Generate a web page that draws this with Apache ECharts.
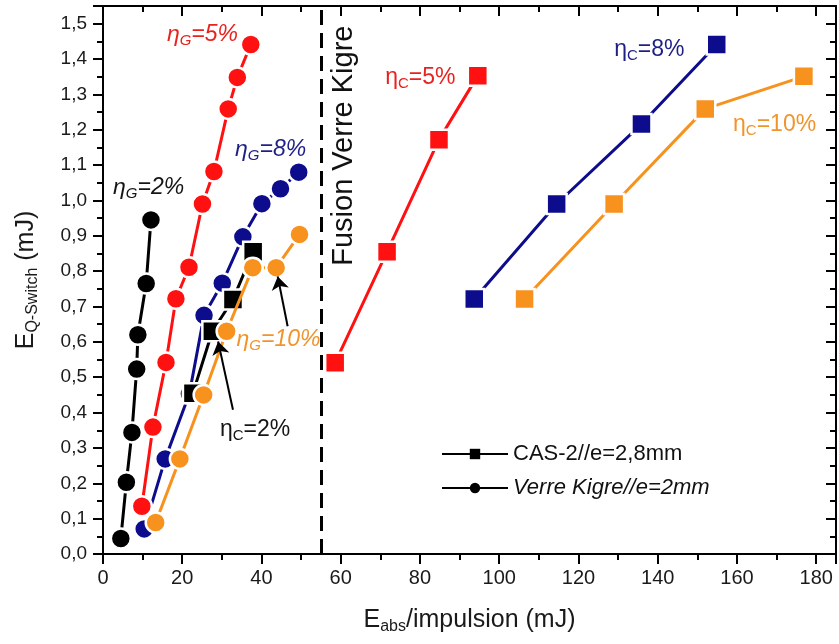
<!DOCTYPE html>
<html><head><meta charset="utf-8">
<script src="https://cdn.jsdelivr.net/npm/echarts@6/dist/echarts.min.js"></script>
<style>html,body{margin:0;padding:0;background:#fff}#c{width:839px;height:644px}</style>
</head><body><div id="c"></div>
<script>
// ---- data (E_abs mJ, E_Q-Switch mJ) ----
const kigreG2  = [[4.5,0.044],[5.9,0.203],[7.3,0.344],[8.5,0.523],[8.8,0.62],[10.9,0.765],[12.1,0.945]];
const kigreG5  = [[9.8,0.135],[12.6,0.359],[15.9,0.542],[18.4,0.722],[21.7,0.811],[25.1,0.990],[28.0,1.082],[31.6,1.259],[33.9,1.348],[37.3,1.441]];
const kigreG8  = [[10.4,0.071],[15.7,0.269],[21.8,0.453],[25.5,0.675],[30.1,0.766],[35.3,0.897],[40.1,0.991],[44.8,1.033],[49.4,1.080]];
const kigreG10 = [[13.3,0.089],[19.4,0.269],[25.4,0.450],[31.2,0.630],[37.8,0.810],[43.7,0.810],[49.6,0.904]];
const casC2  = [[22.7,0.455],[27.6,0.630],[32.8,0.720],[37.9,0.855]];
const casC5  = [[58.6,0.541],[71.7,0.855],[84.8,1.172],[94.6,1.353]];
const casC8  = [[93.7,0.721],[114.5,0.990],[135.9,1.216],[154.9,1.441]];
const casC10 = [[106.4,0.721],[129.0,0.990],[152.0,1.259],[176.9,1.351]];
const fusionX = 55;
const xTickLabels = ['0','20','40','60','80','100','120','140','160','180'];
const yTickLabels = ['0,0','0,1','0,2','0,3','0,4','0,5','0,6','0,7','0,8','0,9','1,0','1,1','1,2','1,3','1,4','1,5'];
const legendNames = ['CAS-2//e=2,8mm','Verre Kigre//e=2mm'];
// annotations: [x, y, subscript, text, colour, italic]
const notes = [
  [25.1,1.469,'G','=5%','#e8231f',true],
  [42.3,1.144,'G','=8%','#1f1f86',true],
  [11.5,1.036,'G','=2%','#151515',true],
  [44.3,0.606,'G','=10%','#f0952c',true],
  [38.4,0.352,'C','=2%','#151515',false],
  [80.1,1.347,'C','=5%','#e8231f',false],
  [137.9,1.427,'C','=8%','#1f1f86',false],
  [169.5,1.214,'C','=10%','#f0952c',false]
];
const arrows = [ [[32.8,0.408],[29.05,0.601]], [[46.6,0.644],[44.1,0.785]] ];
const fusionLabel = [60.9, 1.155, 'Fusion Verre Kigre'];

const RED='#ff1111', BLUE='#0c0c8c', ORANGE='#f7921e', BLACK='#000000';
const FF = "'Liberation Sans', Arial, sans-serif";

function ser(data, color, symbol, z){
  return {type:'line', data:data, symbol:symbol, symbolSize:20, z:z,
    lineStyle:{color:color, width:3}, itemStyle:{color:color, borderColor:'#fff', borderWidth:2.5},
    emphasis:{disabled:true}, silent:true};
}
const chart = echarts.init(document.getElementById('c'), null, {renderer:'canvas'});
const axisCommon = {type:'value', splitLine:{show:false},
  axisLine:{show:true, onZero:false, lineStyle:{color:'#000', width:2}},
  axisTick:{show:true, length:10, lineStyle:{color:'#000', width:2}},
  minorTick:{show:true, splitNumber:2, length:6, lineStyle:{color:'#000', width:2}}};

const yFmt = v => { const i = Math.round(v*10); return Math.abs(v*10-i)<1e-6 && yTickLabels[i]!==undefined ? yTickLabels[i] : ''; };
const xFmt = v => { const i = Math.round(v/20); return Math.abs(v/20-i)<1e-6 && xTickLabels[i]!==undefined ? xTickLabels[i] : ''; };

const option = {
  animation:false,
  backgroundColor:'#fff',
  grid:{left:103, right:1, top:6, bottom:90},
  xAxis:[
    Object.assign({}, axisCommon, {min:0, max:185, interval:20, position:'bottom',
      axisLabel:{formatter:xFmt, fontSize:20, color:'#1a1a1a', fontFamily:FF, margin:14},
      name:'{e|E}{s|abs}{e|/impulsion (mJ)}', nameLocation:'middle', nameGap:51,
      nameTextStyle:{color:'#1a1a1a', fontFamily:FF, rich:{
        e:{fontSize:25, fontFamily:FF, color:'#1a1a1a', verticalAlign:'middle', lineHeight:30},
        s:{fontSize:16, fontFamily:FF, color:'#1a1a1a', verticalAlign:'bottom', lineHeight:16}}}}),
    Object.assign({}, axisCommon, {min:0, max:185, interval:20, position:'top',
      axisTick:{show:true, inside:true, length:10, lineStyle:{color:'#000', width:2}},
      minorTick:{show:true, splitNumber:2, length:6, lineStyle:{color:'#000', width:2}},
      axisLabel:{show:false}})
  ],
  yAxis:[
    Object.assign({}, axisCommon, {min:0, max:1.55, interval:0.1, position:'left',
      axisLabel:{formatter:yFmt, fontSize:19, color:'#1a1a1a', fontFamily:FF, margin:16},
      name:'{e|E}{s|Q-Switch}{e| (mJ)}', nameLocation:'middle', nameGap:62,
      nameTextStyle:{color:'#1a1a1a', fontFamily:FF, rich:{
        e:{fontSize:25, fontFamily:FF, color:'#1a1a1a', verticalAlign:'middle', lineHeight:30},
        s:{fontSize:16, fontFamily:FF, color:'#1a1a1a', verticalAlign:'bottom', lineHeight:16}}}}),
    Object.assign({}, axisCommon, {min:0, max:1.55, interval:0.1, position:'right',
      axisTick:{show:true, inside:true, length:10, lineStyle:{color:'#000', width:2}},
      minorTick:{show:true, splitNumber:2, length:6, lineStyle:{color:'#000', width:2}},
      axisLabel:{show:false}})
  ],
  legend:{left:436, top:438, orient:'vertical', itemWidth:66, itemHeight:13, itemGap:12,
    selectedMode:false,
    textStyle:{fontSize:22, color:'#111', fontFamily:FF},
    data:[{name:legendNames[0]}, {name:legendNames[1], textStyle:{fontStyle:'italic'}}]},
  series:[
    Object.assign(ser(casC5, RED, 'rect', 3), {markLine:{silent:true, symbol:'none', label:{show:false},
      lineStyle:{type:[15,8], width:3, color:'#000'}, data:[{xAxis:fusionX}]}}),
    ser(casC8, BLUE, 'rect', 3),
    ser(casC10, ORANGE, 'rect', 3),
    ser(kigreG2, BLACK, 'circle', 3),
    ser(kigreG5, RED, 'circle', 3),
    ser(kigreG8, BLUE, 'circle', 3),
    ser(casC2, BLACK, 'rect', 4),
    ser(kigreG10, ORANGE, 'circle', 5),
    {type:'lines', coordinateSystem:'cartesian2d', silent:true, z:6, symbol:['none','arrow'], symbolSize:13,
      lineStyle:{color:'#000', width:2, opacity:1}, data:arrows.map(a=>({coords:a}))},
    {type:'line', name:legendNames[0], data:[], symbol:'rect', symbolSize:11, color:BLACK, lineStyle:{color:BLACK,width:3}, itemStyle:{color:BLACK}},
    {type:'line', name:legendNames[1], data:[], symbol:'circle', symbolSize:11, color:BLACK, lineStyle:{color:BLACK,width:3}, itemStyle:{color:BLACK}}
  ]
};
chart.setOption(option);

const g = [];
notes.forEach(n => {
  const p = chart.convertToPixel({gridIndex:0}, [n[0], n[1]]);
  const st = n[5] ? 'italic' : 'normal';
  g.push({type:'text', x:p[0], y:p[1], z:100, silent:true, style:{
    text:'{e|η}{s|'+n[2]+'}{e|'+n[3]+'}', fill:n[4], align:'center', verticalAlign:'middle',
    fontFamily:FF, fontSize:22,
    rich:{ e:{fontSize:23, fontStyle:st, fontFamily:FF, fill:n[4], verticalAlign:'middle', lineHeight:28},
           s:{fontSize:15, fontStyle:st, fontFamily:FF, fill:n[4], verticalAlign:'bottom', lineHeight:15}}}});
});
const fp = chart.convertToPixel({gridIndex:0}, [fusionLabel[0], fusionLabel[1]]);
g.push({type:'text', x:fp[0], y:fp[1], rotation:Math.PI/2, z:100, silent:true, style:{
  text:fusionLabel[2], fill:'#111', fontSize:29, fontFamily:FF, align:'center', verticalAlign:'middle'}});
chart.setOption({graphic:g});
</script>
</body></html>
